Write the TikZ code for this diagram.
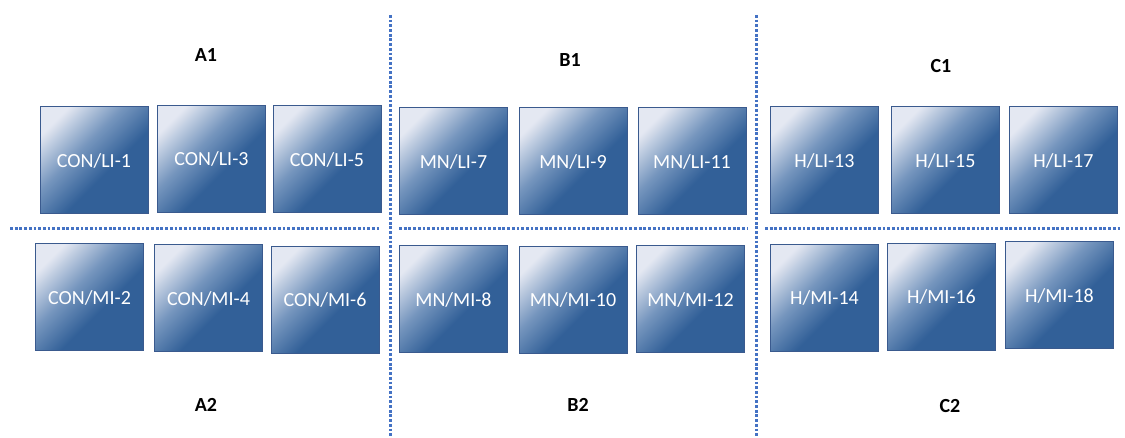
\documentclass[tikz,border=0pt]{standalone}
\usepackage{fontspec}
\setmainfont{Carlito}
\definecolor{boxdark}{RGB}{50,96,152}
\definecolor{boxmid}{RGB}{118,150,190}
\definecolor{boxlight}{RGB}{228,232,242}
\definecolor{boxline}{RGB}{58,90,142}
\definecolor{dotblue}{RGB}{68,114,196}
\pgfdeclareverticalshading{boxshade}{100bp}{color(0bp)=(boxdark); color(25bp)=(boxdark); color(42bp)=(boxdark); color(58bp)=(boxmid); color(76bp)=(boxlight); color(100bp)=(boxlight)}
\tikzset{
  box/.style={draw=boxline, line width=1pt, shading=boxshade, shading angle=45,
    minimum width=108pt, minimum height=107pt, inner sep=0pt,
    text=white, font=\fontsize{20}{24}\selectfont},
  grp/.style={font=\bfseries\fontsize{20}{24}\selectfont, text=black},
  sep/.style={draw=dotblue, line width=3pt, dash pattern=on 2.8pt off 1.9pt}
}
\begin{document}
\begin{tikzpicture}[x=1pt,y=-1pt]
\useasboundingbox (0,0) rectangle (1125,438);
% separators
\coordinate (v1t) at (390,15); \coordinate (v1b) at (390,438);
\coordinate (v2t) at (756,15); \coordinate (v2b) at (756,438);
\coordinate (h1a) at (10,229); \coordinate (h1b) at (381,229);
\coordinate (h2a) at (399,229); \coordinate (h2b) at (748,229);
\coordinate (h3a) at (765,229); \coordinate (h3b) at (1122,229);
\draw[sep] (v1t) -- (v1b);
\draw[sep] (v2t) -- (v2b);
\draw[sep] (h1a) -- (h1b);
\draw[sep] (h2a) -- (h2b);
\draw[sep] (h3a) -- (h3b);
% labels
\node[grp] (A1) at (206,55) {A1};
\node[grp] (B1) at (570,60) {B1};
\node[grp] (C1) at (941,66) {C1};
\node[grp] (A2) at (206,405) {A2};
\node[grp] (B2) at (578,405) {B2};
\node[grp] (C2) at (950,406) {C2};
% top row
\node[box] (n1)  at (94,160.5)   {CON/LI-1};
\node[box] (n3)  at (211.5,159)  {CON/LI-3};
\node[box] (n5)  at (327,159.5)  {CON/LI-5};
\node[box] (n7)  at (453.5,161.5) {MN/LI-7};
\node[box] (n9)  at (573,161.5)  {MN/LI-9};
\node[box] (n11) at (692,161.5)  {MN/LI-11};
\node[box] (n13) at (824.5,160.5) {H/LI-13};
\node[box] (n15) at (945.5,160.5) {H/LI-15};
\node[box] (n17) at (1063.5,160.5) {H/LI-17};
% bottom row
\node[box] (n2)  at (89.5,297.5)  {CON/MI-2};
\node[box] (n4)  at (208.5,298.5) {CON/MI-4};
\node[box] (n6)  at (325,300)     {CON/MI-6};
\node[box] (n8)  at (453.5,299.5) {MN/MI-8};
\node[box] (n10) at (573,300)     {MN/MI-10};
\node[box] (n12) at (690.5,299.5) {MN/MI-12};
\node[box] (n14) at (824.5,298)   {H/MI-14};
\node[box] (n16) at (941.5,297)   {H/MI-16};
\node[box] (n18) at (1059.5,295.5) {H/MI-18};
\end{tikzpicture}
\end{document}
